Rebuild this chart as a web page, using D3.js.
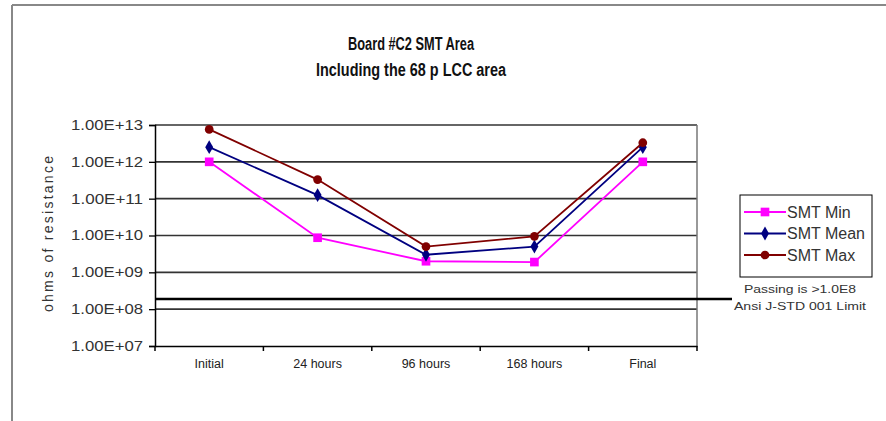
<!DOCTYPE html>
<html><head><meta charset="utf-8">
<script src="https://cdn.jsdelivr.net/npm/d3@7"></script>
<style>body{margin:0;background:#fff}svg{display:block;font-family:Arial,"Liberation Sans",sans-serif}</style>
</head><body><svg id="c" width="886" height="421"></svg>
<script>
const categories = ["Initial","24 hours","96 hours","168 hours","Final"];
const smtMin  = [1.0e12, 8.7e9, 2.0e9, 1.9e9, 1.0e12];
const smtMean = [2.5e12, 1.25e11, 3.0e9, 5.0e9, 2.5e12];
const smtMax  = [7.6e12, 3.3e11, 5.0e9, 9.5e9, 3.3e12];
const seriesNames = ["SMT Min","SMT Mean","SMT Max"];
const yTicks = [1e7,1e8,1e9,1e10,1e11,1e12,1e13];
const passLimit = 1.9e8;
const titleLines = ["Board #C2 SMT Area","Including the 68 p LCC area"];
const passText = ["Passing is >1.0E8","Ansi J-STD 001 Limit"];

const svg = d3.select("#c");
const L=155, R=697, T=125, B=346;
const x = d3.scaleBand().domain(categories).range([L,R]);
const y = d3.scaleLog().domain([1e7,1e13]).range([B,T]);

// outer frame
svg.append("line").attr("x1",12).attr("x2",886).attr("y1",5).attr("y2",5).attr("stroke","#888").attr("stroke-width",2);
svg.append("line").attr("x1",12).attr("x2",12).attr("y1",5).attr("y2",421).attr("stroke","#888").attr("stroke-width",2);

// title
const titleLen = [126, 190];
svg.selectAll("text.title").data(titleLines).join("text").attr("class","title")
  .attr("x",411).attr("y",(d,i)=>50+i*26).attr("text-anchor","middle")
  .attr("font-size",17.5).attr("font-weight","bold").attr("fill","#111")
  .attr("textLength",(d,i)=>titleLen[i]).attr("lengthAdjust","spacingAndGlyphs").text(d=>d);

// gridlines
svg.append("g").selectAll("line").data(yTicks.slice(1)).join("line")
  .attr("x1",L).attr("x2",R).attr("y1",d=>y(d)).attr("y2",d=>y(d))
  .attr("stroke","#333").attr("stroke-width",1.6);
// right border
svg.append("line").attr("x1",R).attr("x2",R).attr("y1",T).attr("y2",B).attr("stroke","#777").attr("stroke-width",1.5);

// y axis
const fmt = d => {const e=Math.round(Math.log10(d)); return "1.00E+"+(e<10?"0"+e:e);};
const ya = svg.append("g").attr("transform",`translate(${L},0)`)
  .call(d3.axisLeft(y).tickValues(yTicks).tickFormat(fmt).tickSize(6).tickPadding(6));
ya.select(".domain").attr("stroke","#000").attr("stroke-width",1.5);
ya.selectAll(".tick line").attr("stroke","#000").attr("stroke-width",1.3);
ya.selectAll("text").attr("font-size",14).attr("fill","#333")
  .attr("textLength",72).attr("lengthAdjust","spacingAndGlyphs");

// x axis
const xa = svg.append("g").attr("transform",`translate(0,${B})`)
  .call(d3.axisBottom(x).tickSize(0).tickPadding(13));
xa.select(".domain").attr("stroke","#000").attr("stroke-width",1.5);
xa.selectAll("text").attr("font-size",12.5).attr("fill","#222");
svg.append("g").selectAll("line").data(d3.range(categories.length+1)).join("line")
  .attr("x1",i=>L+i*x.step()).attr("x2",i=>L+i*x.step()).attr("y1",B).attr("y2",B+5)
  .attr("stroke","#000").attr("stroke-width",1.5);

// y label
svg.append("text").attr("transform","translate(53,234) rotate(-90)").attr("text-anchor","middle")
  .attr("font-size",14).attr("fill","#333")
  .attr("textLength",156).attr("lengthAdjust","spacing").text("ohms of resistance");

// passing limit line
svg.append("line").attr("x1",L).attr("x2",732).attr("y1",y(passLimit)).attr("y2",y(passLimit))
  .attr("stroke","#000").attr("stroke-width",2.5);
const passLen = [112, 132];
svg.selectAll("text.pass").data(passText).join("text").attr("class","pass")
  .attr("x",800).attr("y",(d,i)=>293+i*16.5).attr("text-anchor","middle")
  .attr("font-size",10.5).attr("fill","#333")
  .attr("textLength",(d,i)=>passLen[i]).attr("lengthAdjust","spacingAndGlyphs").text(d=>d);

const series = [
  {name:seriesNames[0], values:smtMin, color:"#ff00ff", sym:d3.symbolSquare, size:75},
  {name:seriesNames[1], values:smtMean, color:"#000080", sym:d3.symbolDiamond, size:55},
  {name:seriesNames[2], values:smtMax, color:"#800000", sym:d3.symbolCircle, size:60}
];
const cx = c => x(c)+x.bandwidth()/2;
const line = d3.line().x((d,i)=>cx(categories[i])).y(d=>y(d));
series.forEach(s=>{
  svg.append("path").attr("d",line(s.values)).attr("fill","none").attr("stroke",s.color).attr("stroke-width",1.8);
  svg.append("g").selectAll("path").data(s.values).join("path")
    .attr("transform",(d,i)=>`translate(${cx(categories[i])},${y(d)})`)
    .attr("d",d3.symbol().type(s.sym).size(s.size)).attr("fill",s.color);
});

// legend
const lg = svg.append("g");
lg.append("rect").attr("x",740).attr("y",195).attr("width",132).attr("height",82)
  .attr("fill","#fff").attr("stroke","#000").attr("stroke-width",1);
series.forEach((s,i)=>{
  const yy = 212+i*21.5;
  lg.append("line").attr("x1",744).attr("x2",786).attr("y1",yy).attr("y2",yy).attr("stroke",s.color).attr("stroke-width",2.2);
  lg.append("path").attr("transform",`translate(765,${yy})`).attr("d",d3.symbol().type(s.sym).size(s.size)).attr("fill",s.color);
  lg.append("text").attr("x",787).attr("y",yy+5.5).attr("font-size",16).attr("fill","#333").text(s.name);
});
</script></body></html>
